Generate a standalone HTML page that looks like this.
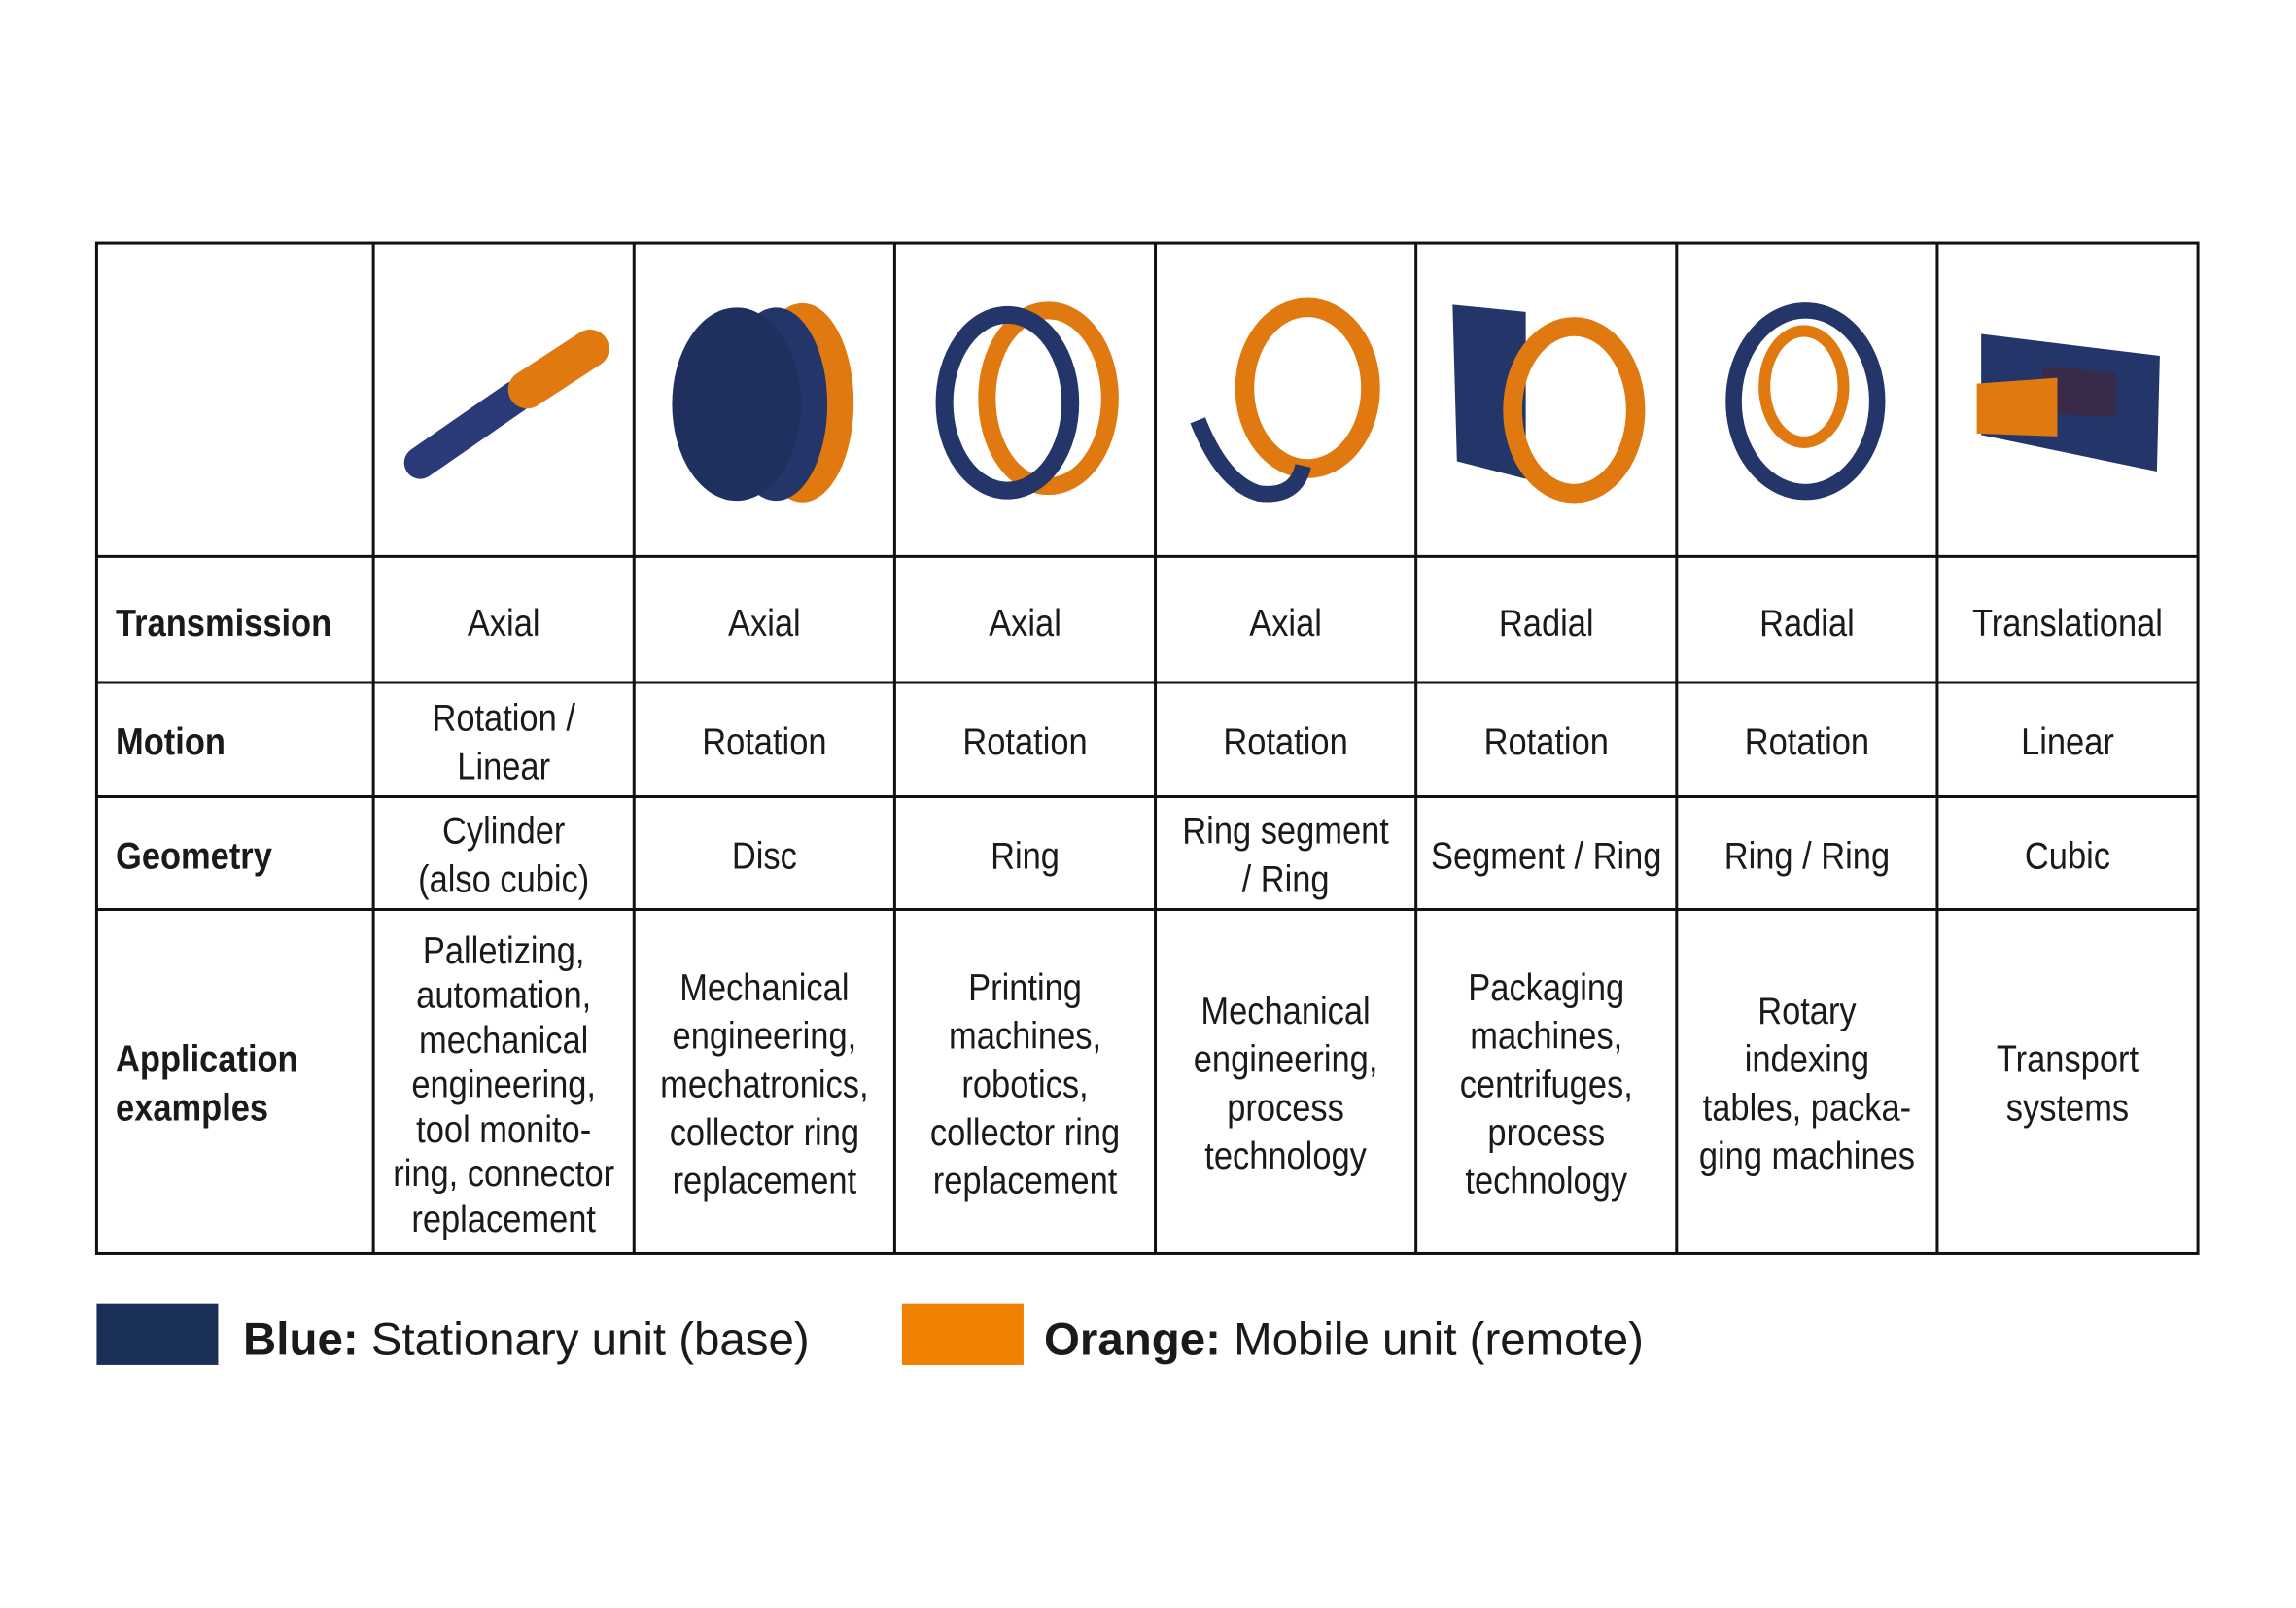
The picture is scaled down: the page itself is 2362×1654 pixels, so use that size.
<!DOCTYPE html>
<html><head><meta charset="utf-8"><style>
html,body{margin:0;padding:0;background:#fff;}
svg{display:block}
text{font-family:"Liberation Sans",sans-serif;fill:#1a1a1a;}
.c{text-anchor:middle;font-size:26px;}
.b{font-weight:bold;font-size:26px;}
</style></head><body>
<svg width="2362" height="1654" viewBox="0 0 1568 1098" xmlns="http://www.w3.org/2000/svg">
<rect width="1568" height="1098" fill="#fff"/>
<g stroke="#111" stroke-width="2" fill="none">
<rect x="66" y="166" width="1435" height="690"/>
<line x1="66" y1="380" x2="1501" y2="380"/>
<line x1="66" y1="466" x2="1501" y2="466"/>
<line x1="66" y1="544" x2="1501" y2="544"/>
<line x1="66" y1="621" x2="1501" y2="621"/>
<line x1="255" y1="166" x2="255" y2="856"/>
<line x1="433" y1="166" x2="433" y2="856"/>
<line x1="611" y1="166" x2="611" y2="856"/>
<line x1="789" y1="166" x2="789" y2="856"/>
<line x1="967" y1="166" x2="967" y2="856"/>
<line x1="1145" y1="166" x2="1145" y2="856"/>
<line x1="1323" y1="166" x2="1323" y2="856"/>
</g>
<!-- icons -->
<line x1="287" y1="316" x2="352" y2="271" stroke="#2a3a78" stroke-width="22" stroke-linecap="round"/>
<line x1="360" y1="266" x2="403" y2="238" stroke="#e07a10" stroke-width="26" stroke-linecap="round"/>
<ellipse cx="548" cy="275" rx="35" ry="68" fill="#e07a10"/>
<ellipse cx="530" cy="276" rx="35" ry="66" fill="#24356a"/>
<ellipse cx="503" cy="276" rx="44" ry="66" fill="#1f2f5e"/>
<ellipse cx="716" cy="272" rx="42" ry="60" fill="none" stroke="#e07a10" stroke-width="12"/>
<ellipse cx="688" cy="275" rx="43" ry="60" fill="none" stroke="#24356a" stroke-width="12"/>
<ellipse cx="893" cy="265" rx="43" ry="55" fill="none" stroke="#e07a10" stroke-width="13"/>
<path d="M818 287 Q835 330 860 337 Q885 340 890 318" fill="none" stroke="#24356a" stroke-width="11"/>
<polygon points="992,208 1042,213 1042,327 995,315" fill="#24356a"/>
<ellipse cx="1075" cy="280" rx="42" ry="57" fill="none" stroke="#e07a10" stroke-width="13"/>
<ellipse cx="1233" cy="274" rx="49" ry="62" fill="none" stroke="#24356a" stroke-width="11"/>
<ellipse cx="1232" cy="264" rx="27" ry="38" fill="none" stroke="#e07a10" stroke-width="8"/>
<polygon points="1353,228 1475,243 1473,322 1353,297" fill="#24356a"/>
<polygon points="1395,250 1445,255 1445,285 1395,282" fill="#3a2a4a"/>
<polygon points="1350,262 1405,258 1405,298 1350,296" fill="#e07a10"/>
<!-- condensed text layer -->
<svg x="0" y="0" width="1568" height="1098" viewBox="0 0 1781.8 1098" preserveAspectRatio="none">
<text class="b" x="89.8" y="434">Transmission</text>
<text class="b" x="89.8" y="515">Motion</text>
<text class="b" x="89.8" y="593">Geometry</text>
<text class="b" x="89.8" y="732">Application</text>
<text class="b" x="89.8" y="765">examples</text>
<text class="c" x="390.9" y="434">Axial</text>
<text class="c" x="593.2" y="434">Axial</text>
<text class="c" x="795.5" y="434">Axial</text>
<text class="c" x="997.7" y="434">Axial</text>
<text class="c" x="1200" y="434">Radial</text>
<text class="c" x="1402.3" y="434">Radial</text>
<text class="c" x="1604.5" y="434">Translational</text>
<text class="c" x="390.9" y="499">Rotation /</text>
<text class="c" x="390.9" y="532">Linear</text>
<text class="c" x="593.2" y="515">Rotation</text>
<text class="c" x="795.5" y="515">Rotation</text>
<text class="c" x="997.7" y="515">Rotation</text>
<text class="c" x="1200" y="515">Rotation</text>
<text class="c" x="1402.3" y="515">Rotation</text>
<text class="c" x="1604.5" y="515">Linear</text>
<text class="c" x="390.9" y="576">Cylinder</text>
<text class="c" x="390.9" y="609">(also cubic)</text>
<text class="c" x="593.2" y="593">Disc</text>
<text class="c" x="795.5" y="593">Ring</text>
<text class="c" x="997.7" y="576">Ring segment</text>
<text class="c" x="997.7" y="609">/ Ring</text>
<text class="c" x="1200" y="593">Segment / Ring</text>
<text class="c" x="1402.3" y="593">Ring / Ring</text>
<text class="c" x="1604.5" y="593">Cubic</text>
<text class="c" x="390.9" y="658">Palletizing,</text>
<text class="c" x="390.9" y="688">automation,</text>
<text class="c" x="390.9" y="719">mechanical</text>
<text class="c" x="390.9" y="749">engineering,</text>
<text class="c" x="390.9" y="780">tool monito-</text>
<text class="c" x="390.9" y="810">ring, connector</text>
<text class="c" x="390.9" y="841">replacement</text>
<text class="c" x="593.2" y="683">Mechanical</text>
<text class="c" x="593.2" y="716">engineering,</text>
<text class="c" x="593.2" y="749">mechatronics,</text>
<text class="c" x="593.2" y="782">collector ring</text>
<text class="c" x="593.2" y="815">replacement</text>
<text class="c" x="795.5" y="683">Printing</text>
<text class="c" x="795.5" y="716">machines,</text>
<text class="c" x="795.5" y="749">robotics,</text>
<text class="c" x="795.5" y="782">collector ring</text>
<text class="c" x="795.5" y="815">replacement</text>
<text class="c" x="997.7" y="699">Mechanical</text>
<text class="c" x="997.7" y="732">engineering,</text>
<text class="c" x="997.7" y="765">process</text>
<text class="c" x="997.7" y="798">technology</text>
<text class="c" x="1200" y="683">Packaging</text>
<text class="c" x="1200" y="716">machines,</text>
<text class="c" x="1200" y="749">centrifuges,</text>
<text class="c" x="1200" y="782">process</text>
<text class="c" x="1200" y="815">technology</text>
<text class="c" x="1402.3" y="699">Rotary</text>
<text class="c" x="1402.3" y="732">indexing</text>
<text class="c" x="1402.3" y="765">tables, packa-</text>
<text class="c" x="1402.3" y="798">ging machines</text>
<text class="c" x="1604.5" y="732">Transport</text>
<text class="c" x="1604.5" y="765">systems</text>
</svg>
<!-- legend -->
<rect x="66" y="890" width="83" height="42" fill="#1b3058"/>
<text x="166" y="925" style="font-size:31.5px"><tspan font-weight="bold">Blue:</tspan> Stationary unit (base)</text>
<rect x="616" y="890" width="83" height="42" fill="#f08000"/>
<text x="713" y="925" style="font-size:31.5px"><tspan font-weight="bold">Orange:</tspan> Mobile unit (remote)</text>
</svg>
</body></html>
